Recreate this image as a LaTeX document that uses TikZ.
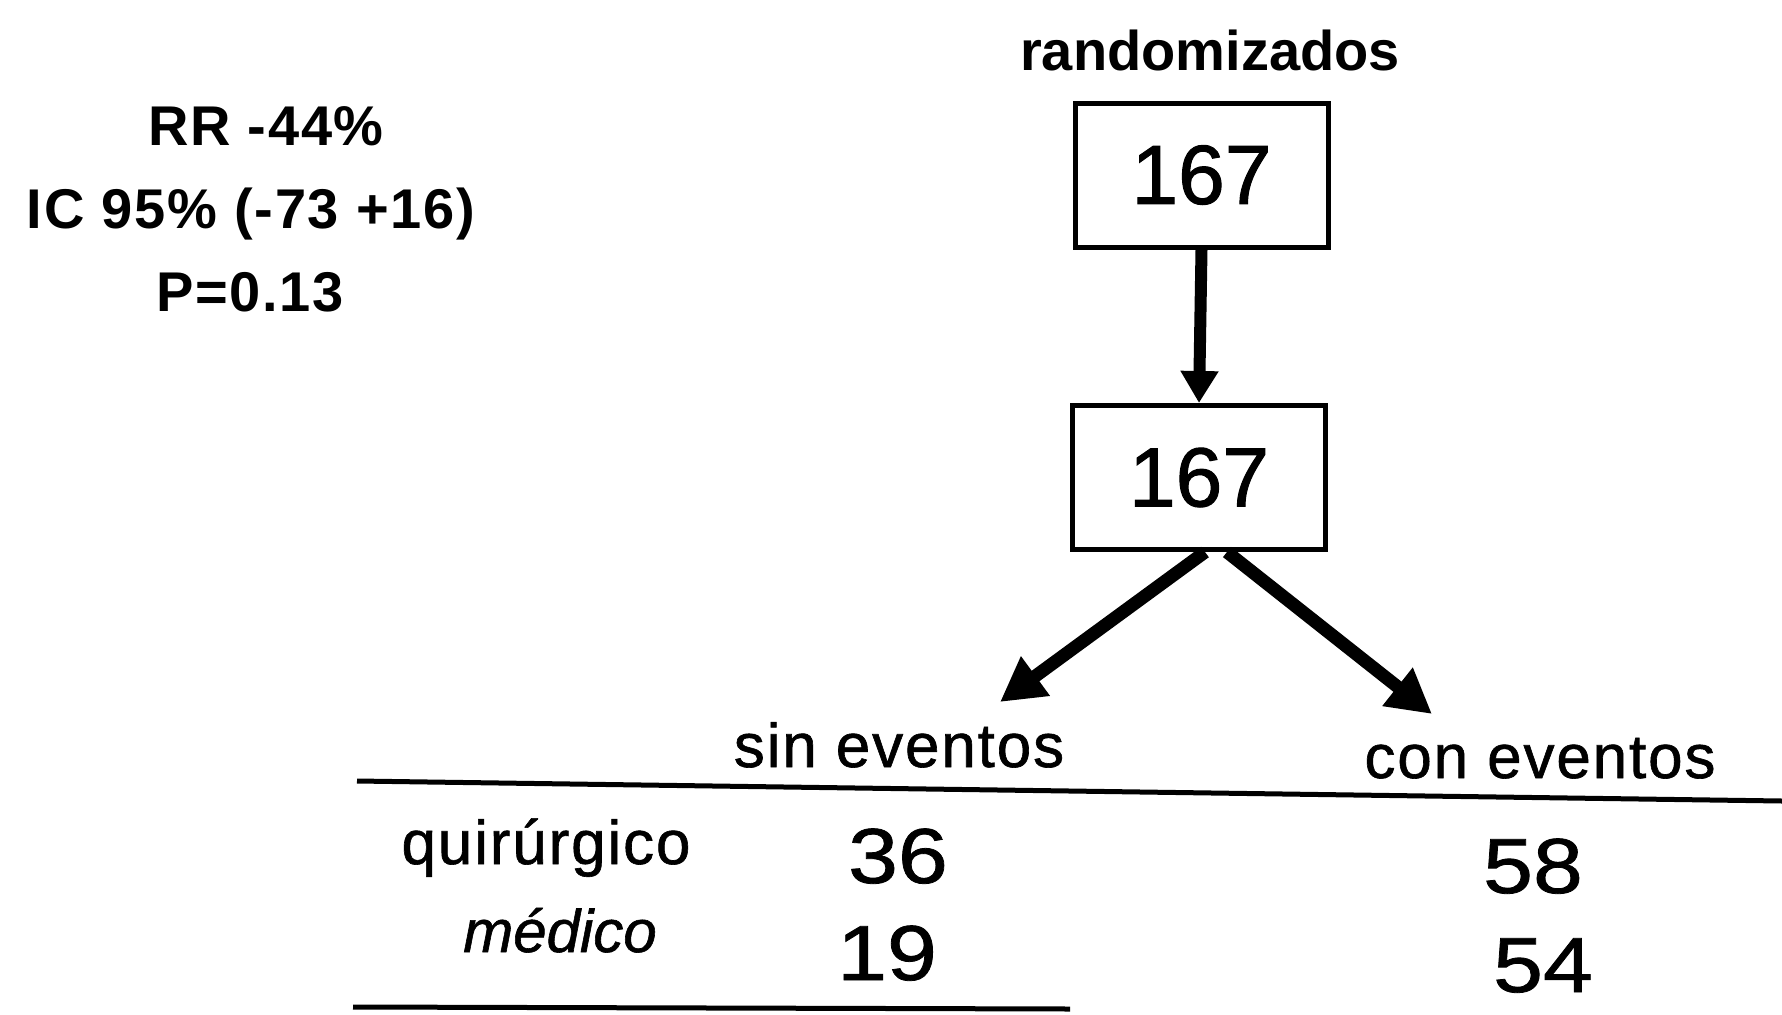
\documentclass[tikz,border=0pt]{standalone}
\usepackage{fontspec}
\setmainfont{Liberation Sans}
\newfontfamily\lblfont[LetterSpace=3,FakeBold=1]{Liberation Sans}
\newfontfamily\medfont[FakeBold=1]{Liberation Sans}
\newfontfamily\numfont[FakeStretch=1.15,FakeBold=1]{Liberation Sans}
\newfontfamily\boxfont[FakeBold=1.2]{Liberation Sans}
\newfontfamily\statfont[LetterSpace=3]{Liberation Sans}
\usetikzlibrary{arrows.meta}
\begin{document}
\begin{tikzpicture}[x=1bp,y=-1bp,
  boldtxt/.style={font=\fontsize{56bp}{60bp}\selectfont\bfseries, anchor=base, inner sep=0pt},
  stattxt/.style={font=\statfont\fontsize{56bp}{60bp}\selectfont\bfseries, anchor=base, inner sep=0pt},
  lbl/.style={font=\lblfont\fontsize{62bp}{66bp}\selectfont, anchor=base, inner sep=0pt},
  numtxt/.style={font=\numfont\fontsize{78bp}{82bp}\selectfont, anchor=base, inner sep=0pt},
  boxnode/.style={draw, line width=5bp, minimum width=253bp, minimum height=144bp, inner sep=0pt,
    font=\boxfont\fontsize{84bp}{88bp}\selectfont},
  arrowv/.style={line width=12bp, -{Triangle[length=32bp,width=36bp]}},
  arrowd/.style={line width=13bp, -{Triangle[length=44bp,width=46bp]}},
  rulel/.style={line width=5bp}]
\fill[white] (0,0) rectangle (1782,1014);
\useasboundingbox (0,0) rectangle (1782,1014);

% statistics text
\node[stattxt] (rr) at (266,145) {RR -44\%};
\node[stattxt] (ic) at (251,228) {IC 95\% (-73 +16)};
\node[stattxt] (p) at (250,311) {P=0.13};

% flow
\node[boldtxt] (rand) at (1210,70) {randomizados};
\node[boxnode] (b1) at (1201.5,175) {167};
\node[boxnode] (b2) at (1199,477.5) {167};
\coordinate (tipL) at (1000,702);
\coordinate (tipR) at (1432,714);
\draw[arrowv] (b1.south) -- (b2.north);
\draw[arrowd] ([xshift=6bp]b2.south) -- (tipL);
\draw[arrowd] ([xshift=28bp]b2.south) -- (tipR);

% table
\node[lbl] (sin) at (899,767) {sin eventos};
\node[lbl] (con) at (1540,778) {con eventos};
\coordinate (t1) at (357,781);
\coordinate (t2) at (1782,801);
\draw[rulel] (t1) -- (t2);
\node[lbl] (quir) at (546,864) {quirúrgico};
\node[lbl,font=\medfont\fontsize{60bp}{64bp}\selectfont\itshape] (med) at (560,952) {médico};
\node[numtxt] (n36) at (898,883) {36};
\node[numtxt] (n19) at (887,980) {19};
\node[numtxt] (n58) at (1533,893) {58};
\node[numtxt] (n54) at (1543,992) {54};
\coordinate (u1) at (353,1007);
\coordinate (u2) at (1070,1009);
\draw[rulel] (u1) -- (u2);
\end{tikzpicture}
\end{document}
